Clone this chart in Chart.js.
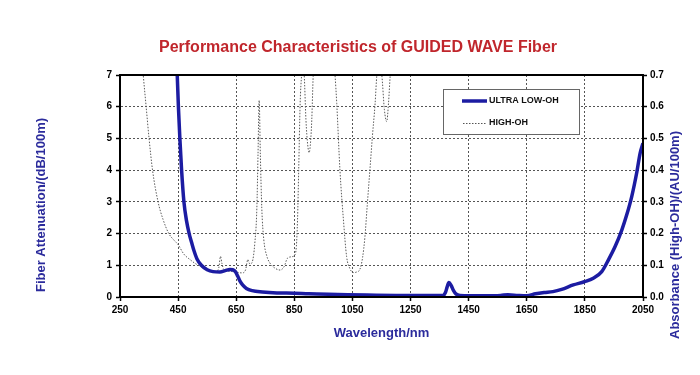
<!DOCTYPE html>
<html><head><meta charset="utf-8">
<script src="https://cdn.jsdelivr.net/npm/chart.js@4"></script>
<style>html,body{margin:0;padding:0;background:#fff;}#wrap{width:700px;height:375px;}</style>
</head><body><div id="wrap"><canvas id="c" width="700" height="375"></canvas></div>
<script>
// ---- texts ----
const chartTitle = 'Performance Characteristics of GUIDED WAVE Fiber';
const xAxisTitle = 'Wavelength/nm';
const yLeftTitle = 'Fiber Attenuation/(dB/100m)';
const yRightTitle = 'Absorbance (High-OH)/(AU/100m)';
const seriesNames = ['ULTRA LOW-OH', 'HIGH-OH'];

// ---- tick labels ----
const xTickLabels = ['250', '450', '650', '850', '1050', '1250', '1450', '1650', '1850', '2050'];
const yLeftTickLabels = ['0', '1', '2', '3', '4', '5', '6', '7'];
const yRightTickLabels = ['0.0', '0.1', '0.2', '0.3', '0.4', '0.5', '0.6', '0.7'];

// ---- ULTRA LOW-OH (left axis, dB/100m) ----
const ultraWavelength = [444, 447, 451, 456, 462, 470, 479, 488, 497, 505, 515, 530, 550, 570, 594, 612, 628, 638, 647, 655, 663, 672, 685, 705, 740, 790, 850, 900, 1000, 1100, 1200, 1300, 1362, 1370, 1376, 1382, 1390, 1398, 1406, 1420, 1500, 1560, 1585, 1620, 1650, 1680, 1710, 1740, 1770, 1810, 1848, 1879, 1908, 1931, 1954, 1977, 1994, 2011, 2029, 2040, 2050];
const ultraAttenuation = [7.6, 7.0, 6.0, 5.0, 4.0, 3.0, 2.4, 2.0, 1.7, 1.45, 1.2, 1.0, 0.86, 0.8, 0.79, 0.83, 0.87, 0.86, 0.8, 0.66, 0.5, 0.38, 0.27, 0.2, 0.16, 0.13, 0.12, 0.1, 0.08, 0.06, 0.05, 0.05, 0.05, 0.14, 0.32, 0.46, 0.36, 0.2, 0.1, 0.05, 0.04, 0.05, 0.07, 0.05, 0.04, 0.1, 0.14, 0.17, 0.24, 0.38, 0.48, 0.59, 0.8, 1.17, 1.59, 2.11, 2.59, 3.16, 3.95, 4.53, 4.85];

// ---- HIGH-OH (right axis, AU/100m) ----
const highWavelength = [320, 330, 340, 350, 362, 381, 398, 418, 435, 450, 470, 491, 510, 525, 540, 560, 580, 590, 596, 601, 608, 630, 650, 670, 682, 690, 697, 705, 714, 721, 725, 729, 733, 738, 745, 755, 766, 785, 801, 815, 826, 841, 852, 857, 861, 865, 870, 875, 879, 884, 890, 896, 901, 906, 910, 915, 925, 950, 975, 990, 996, 1007, 1019, 1030, 1041, 1053, 1065, 1076, 1085, 1093, 1101, 1110, 1119, 1128, 1134, 1142, 1151, 1160, 1168, 1174, 1180, 1195];
const highAbsorbance = [0.82, 0.70, 0.60, 0.50, 0.40, 0.30, 0.245, 0.20, 0.18, 0.165, 0.135, 0.118, 0.105, 0.098, 0.09, 0.083, 0.081, 0.092, 0.128, 0.105, 0.086, 0.081, 0.078, 0.076, 0.085, 0.118, 0.104, 0.11, 0.17, 0.28, 0.45, 0.62, 0.45, 0.28, 0.18, 0.13, 0.107, 0.09, 0.085, 0.096, 0.122, 0.127, 0.133, 0.16, 0.243, 0.40, 0.61, 0.70, 0.74, 0.70, 0.558, 0.48, 0.455, 0.49, 0.558, 0.70, 0.85, 1.0, 0.85, 0.70, 0.61, 0.40, 0.243, 0.127, 0.09, 0.077, 0.079, 0.088, 0.125, 0.19, 0.29, 0.40, 0.51, 0.61, 0.70, 0.73, 0.70, 0.59, 0.553, 0.61, 0.70, 0.9];

const FONT = '"Liberation Sans", Arial, Helvetica, sans-serif';
const BLUE = '#1c1ca2';
const AXIS_BLUE = '#2b2b9c';
Chart.defaults.font.family = FONT;

const decorPlugin = {
  id: 'decor',
  afterDatasetsDraw(chart) {
    const ctx = chart.ctx, a = chart.chartArea;
    ctx.save();
    // frame
    ctx.strokeStyle = '#000'; ctx.lineWidth = 2; ctx.setLineDash([]);
    ctx.strokeRect(a.left, a.top, a.right - a.left, a.bottom - a.top);
    // legend box
    const lx = 443, ly = 89, lw = 136, lh = 45;
    ctx.fillStyle = '#fff'; ctx.fillRect(lx, ly, lw, lh);
    ctx.strokeStyle = '#666'; ctx.lineWidth = 1; ctx.strokeRect(lx + 0.5, ly + 0.5, lw, lh);
    ctx.strokeStyle = BLUE; ctx.lineWidth = 3.5;
    ctx.beginPath(); ctx.moveTo(462, 101); ctx.lineTo(487, 101); ctx.stroke();
    ctx.strokeStyle = '#555'; ctx.lineWidth = 1; ctx.setLineDash([1.5, 1.5]);
    ctx.beginPath(); ctx.moveTo(463, 123.5); ctx.lineTo(487, 123.5); ctx.stroke();
    ctx.setLineDash([]);
    ctx.fillStyle = '#111'; ctx.font = 'bold 9px ' + FONT; ctx.textBaseline = 'middle'; ctx.textAlign = 'left';
    ctx.fillText(chart.data.datasets[0].label, 489, 101);
    ctx.fillText(chart.data.datasets[1].label, 489, 123);
    ctx.restore();
  },
  afterDraw(chart) {
    const ctx = chart.ctx;
    ctx.save();
    ctx.textAlign = 'center'; ctx.textBaseline = 'middle';
    ctx.fillStyle = '#c0262c'; ctx.font = 'bold 16px ' + FONT;
    ctx.fillText(chartTitle, 358, 48);
    ctx.fillStyle = AXIS_BLUE; ctx.font = 'bold 13px ' + FONT;
    ctx.translate(41, 205); ctx.rotate(-Math.PI / 2); ctx.fillText(yLeftTitle, 0, 0);
    ctx.setTransform(1, 0, 0, 1, 0, 0);
    ctx.translate(675, 235); ctx.rotate(-Math.PI / 2); ctx.fillText(yRightTitle, 0, 0);
    ctx.restore();
  }
};

const tickFont = {family: FONT, size: 10, weight: 'bold'};
new Chart(document.getElementById('c').getContext('2d'), {
  type: 'line',
  data: {
    datasets: [
      {label: seriesNames[0], data: ultraWavelength.map((x, i) => ({x, y: ultraAttenuation[i]})), yAxisID: 'y',
       borderColor: BLUE, borderWidth: 3.5, pointRadius: 0, cubicInterpolationMode: 'monotone', fill: false},
      {label: seriesNames[1], data: highWavelength.map((x, i) => ({x, y: highAbsorbance[i]})), yAxisID: 'y1',
       borderColor: '#5a5a5a', borderWidth: 1, borderDash: [1.5, 1.5], pointRadius: 0, cubicInterpolationMode: 'monotone', fill: false}
    ]
  },
  options: {
    responsive: false, animation: false, devicePixelRatio: 1,
    layout: {padding: {top: 75, left: 0, right: 0, bottom: 0}},
    plugins: {legend: {display: false}, title: {display: false}, tooltip: {enabled: false}},
    scales: {
      x: {
        type: 'linear', min: 250, max: 2050,
        afterBuildTicks: s => { s.ticks = xTickLabels.map(v => ({value: Number(v)})); },
        afterFit: s => { s.height = 78; },
        grid: {color: '#555', lineWidth: 1, tickLength: 4, tickColor: '#000', tickWidth: 1.5},
        border: {color: '#000', width: 2, dash: [2, 2]},
        ticks: {color: '#000', font: tickFont, padding: 3, maxRotation: 0, autoSkip: false, callback: (v, i) => xTickLabels[i]},
        title: {display: true, text: xAxisTitle, color: AXIS_BLUE, font: {family: FONT, size: 13, weight: 'bold'}, padding: {top: 0, bottom: 34}}
      },
      y: {
        position: 'left', min: 0, max: 7,
        afterBuildTicks: s => { s.ticks = yLeftTickLabels.map(v => ({value: Number(v)})); },
        afterFit: s => { s.width = 120; },
        grid: {color: '#555', lineWidth: 1, tickLength: 4, tickColor: '#000', tickWidth: 1.5},
        border: {color: '#000', width: 2, dash: [2, 2]},
        ticks: {color: '#000', font: tickFont, padding: 4, callback: (v, i) => yLeftTickLabels[i]}
      },
      y1: {
        position: 'right', min: 0, max: 0.7,
        afterBuildTicks: s => { s.ticks = yRightTickLabels.map(v => ({value: Number(v)})); },
        afterFit: s => { s.width = 57; },
        grid: {drawOnChartArea: false, tickLength: 4, tickColor: '#000', tickWidth: 1.5},
        border: {color: '#000', width: 2},
        ticks: {color: '#000', font: tickFont, padding: 3, callback: (v, i) => yRightTickLabels[i]}
      }
    }
  },
  plugins: [decorPlugin]
});
</script></body></html>
